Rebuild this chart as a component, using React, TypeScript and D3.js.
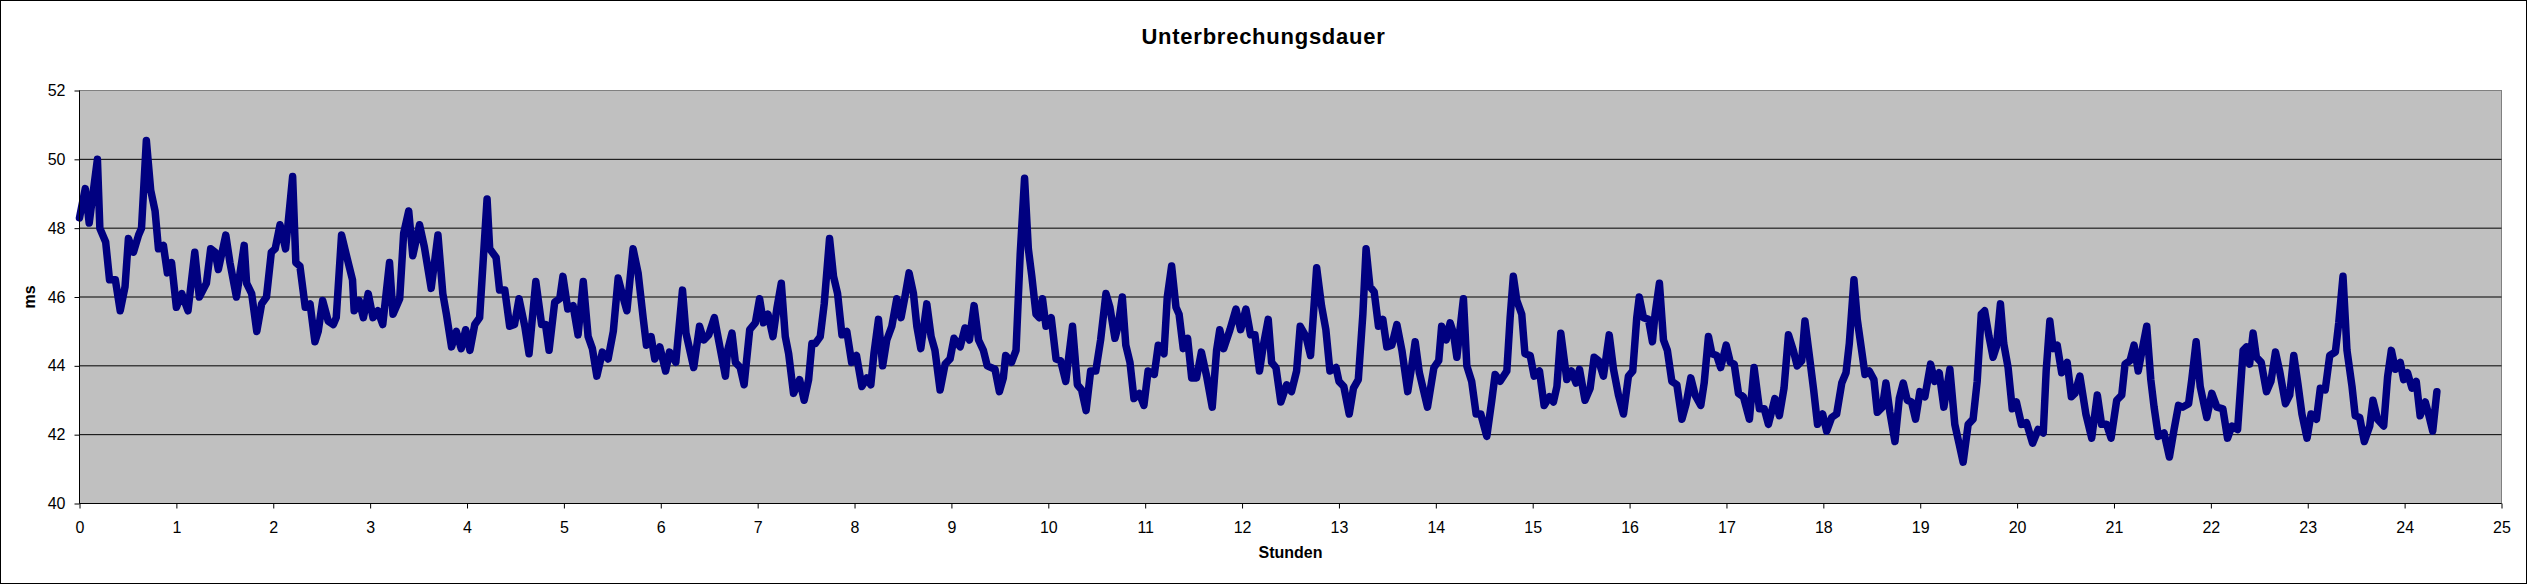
import React, { useEffect, useRef } from "react";
import * as d3 from "d3";

// Stunden (x) und Unterbrechungsdauer in ms (y)
const hours = [
  0.0, 0.06, 0.1, 0.185, 0.21, 0.27, 0.31, 0.37, 0.42, 0.47, 0.505, 0.557, 0.61, 0.64, 0.69, 0.735, 0.78, 0.815, 0.866, 0.907, 0.95,
  1.0, 1.055, 1.12, 1.19, 1.237, 1.31, 1.354, 1.4, 1.433, 1.51, 1.553, 1.62, 1.7, 1.725, 1.777, 1.83, 1.88, 1.93, 1.98,
  2.02, 2.07, 2.127, 2.155, 2.2, 2.233, 2.275, 2.33, 2.38, 2.43, 2.464, 2.51, 2.567, 2.62, 2.65, 2.705, 2.756, 2.818, 2.835, 2.886, 2.93, 2.98,
  3.03, 3.08, 3.13, 3.2, 3.236, 3.305, 3.346, 3.398, 3.44, 3.51, 3.56, 3.63, 3.7, 3.75, 3.787, 3.84, 3.89, 3.94, 3.986,
  4.03, 4.08, 4.13, 4.207, 4.234, 4.3, 4.336, 4.39, 4.44, 4.49, 4.537, 4.596, 4.64, 4.71, 4.77, 4.81, 4.847, 4.905, 4.957, 4.99,
  5.04, 5.095, 5.146, 5.2, 5.25, 5.294, 5.34, 5.397, 5.456, 5.51, 5.56, 5.61, 5.65, 5.714, 5.766, 5.82, 5.852, 5.9, 5.938, 5.99,
  6.05, 6.09, 6.155, 6.224, 6.26, 6.34, 6.4, 6.443, 6.495, 6.553, 6.6, 6.667, 6.69, 6.735, 6.77, 6.82, 6.86, 6.918, 6.976,
  7.02, 7.06, 7.107, 7.158, 7.2, 7.244, 7.285, 7.32, 7.37, 7.433, 7.48, 7.526, 7.56, 7.595, 7.646, 7.687, 7.742, 7.783, 7.825, 7.87, 7.92, 7.97,
  8.02, 8.076, 8.127, 8.168, 8.2, 8.247, 8.29, 8.333, 8.385, 8.436, 8.48, 8.52, 8.563, 8.608, 8.643, 8.684, 8.746, 8.79, 8.83, 8.883, 8.935, 8.986,
  9.027, 9.09, 9.14, 9.186, 9.234, 9.28, 9.33, 9.37, 9.45, 9.495, 9.536, 9.56, 9.62, 9.667, 9.71, 9.755, 9.794, 9.83, 9.873, 9.907, 9.94, 9.976,
  10.03, 10.08, 10.127, 10.18, 10.25, 10.3, 10.344, 10.39, 10.437, 10.49, 10.54, 10.595, 10.636, 10.688, 10.72, 10.764, 10.8, 10.843, 10.884, 10.94, 10.987,
  11.03, 11.094, 11.135, 11.194, 11.228, 11.273, 11.318, 11.35, 11.393, 11.438, 11.48, 11.53, 11.58, 11.634, 11.692, 11.737, 11.77, 11.81, 11.875, 11.937, 11.985,
  12.04, 12.088, 12.133, 12.18, 12.22, 12.27, 12.305, 12.35, 12.4, 12.46, 12.51, 12.563, 12.6, 12.66, 12.707, 12.77, 12.82, 12.865, 12.907, 12.97,
  13.0, 13.05, 13.106, 13.15, 13.2, 13.247, 13.28, 13.32, 13.364, 13.408, 13.453, 13.494, 13.546, 13.598, 13.65, 13.71, 13.752, 13.787, 13.83, 13.914, 13.98,
  14.03, 14.06, 14.107, 14.148, 14.182, 14.217, 14.285, 14.32, 14.37, 14.416, 14.464, 14.526, 14.578, 14.612, 14.664, 14.733, 14.767, 14.8, 14.836, 14.887, 14.92, 14.974,
  15.015, 15.07, 15.118, 15.173, 15.214, 15.25, 15.29, 15.352, 15.4, 15.448, 15.483, 15.54, 15.593, 15.634, 15.68, 15.73, 15.79, 15.834, 15.885, 15.937, 15.988,
  16.033, 16.074, 16.1, 16.143, 16.195, 16.236, 16.263, 16.308, 16.35, 16.39, 16.436, 16.488, 16.54, 16.584, 16.632, 16.677, 16.735, 16.77, 16.814, 16.85, 16.9, 16.94, 16.997,
  17.04, 17.08, 17.124, 17.175, 17.237, 17.285, 17.34, 17.39, 17.433, 17.5, 17.546, 17.594, 17.64, 17.69, 17.73, 17.777, 17.81, 17.86, 17.9, 17.94, 17.993,
  18.034, 18.086, 18.137, 18.19, 18.234, 18.268, 18.316, 18.35, 18.395, 18.43, 18.474, 18.522, 18.557, 18.61, 18.646, 18.687, 18.739, 18.784, 18.825, 18.866, 18.91, 18.952, 18.997,
  19.048, 19.107, 19.15, 19.196, 19.244, 19.306, 19.357, 19.4, 19.443, 19.495, 19.546, 19.588, 19.63, 19.665, 19.71, 19.752, 19.786, 19.828, 19.862, 19.907, 19.95, 19.993,
  20.045, 20.097, 20.16, 20.217, 20.27, 20.3, 20.338, 20.372, 20.414, 20.46, 20.517, 20.56, 20.597, 20.648, 20.71, 20.77, 20.828, 20.872, 20.924, 20.97,
  21.028, 21.08, 21.114, 21.166, 21.207, 21.25, 21.3, 21.338, 21.38, 21.414, 21.458, 21.517, 21.572, 21.62, 21.666, 21.71, 21.77, 21.803, 21.848, 21.89, 21.958,
  22.01, 22.062, 22.124, 22.172, 22.217, 22.276, 22.333, 22.368, 22.4, 22.436, 22.47, 22.52, 22.574, 22.62, 22.667, 22.71, 22.77, 22.814, 22.856, 22.9, 22.94, 22.993,
  23.034, 23.09, 23.13, 23.18, 23.227, 23.285, 23.32, 23.364, 23.388, 23.405, 23.457, 23.49, 23.536, 23.584, 23.64, 23.673, 23.72, 23.784, 23.825, 23.863, 23.904, 23.955, 23.99,
  24.03, 24.076, 24.12, 24.16, 24.213, 24.247, 24.29, 24.333,
];

const ms = [
  48.3, 49.15, 48.15, 50.0, 48.0, 47.6, 46.5, 46.5, 45.6, 46.3, 47.7, 47.3, 47.8, 48.0, 50.55, 49.1, 48.5, 47.4, 47.5, 46.7, 47.0,
  45.7, 46.1, 45.6, 47.3, 46.0, 46.4, 47.4, 47.3, 46.8, 47.8, 47.0, 46.0, 47.5, 46.4, 46.1, 45.0, 45.8, 46.0, 47.3,
  47.4, 48.1, 47.4, 48.2, 49.5, 47.0, 46.9, 45.7, 45.8, 44.7, 45.0, 45.9, 45.3, 45.2, 45.4, 47.8, 47.2, 46.5, 45.6, 45.9, 45.4, 46.1,
  45.4, 45.6, 45.2, 47.0, 45.5, 45.95, 47.85, 48.5, 47.2, 48.1, 47.45, 46.25, 47.8, 46.1, 45.5, 44.55, 45.0, 44.5, 45.05,
  44.45, 45.2, 45.4, 48.85, 47.4, 47.15, 46.2, 46.2, 45.15, 45.2, 45.95, 45.15, 44.35, 46.45, 45.2, 45.2, 44.45, 45.85, 45.95, 46.6,
  45.65, 45.75, 44.9, 46.45, 44.85, 44.5, 43.7, 44.4, 44.2, 45.0, 46.55, 46.0, 45.6, 47.4, 46.7, 45.35, 44.6, 44.85, 44.2, 44.55,
  43.85, 44.4, 44.1, 46.2, 44.95, 43.95, 45.15, 44.75, 44.9, 45.4, 44.7, 43.7, 44.45, 44.95, 44.1, 43.95, 43.45, 45.05, 45.25,
  45.95, 45.25, 45.5, 44.85, 45.7, 46.4, 44.85, 44.35, 43.2, 43.6, 43.0, 43.6, 44.65, 44.65, 44.85, 45.8, 47.7, 46.6, 46.1, 44.9, 45.0, 44.1,
  44.3, 43.4, 43.65, 43.45, 44.35, 45.35, 44.0, 44.75, 45.15, 45.95, 45.4, 46.0, 46.7, 46.1, 45.15, 44.5, 45.8, 44.85, 44.45, 43.3, 44.05, 44.2,
  44.8, 44.55, 45.1, 44.75, 45.75, 44.75, 44.45, 44.0, 43.9, 43.25, 43.65, 44.3, 44.1, 44.45, 47.25, 49.45, 47.4, 46.6, 45.5, 45.4, 45.95, 45.15,
  45.4, 44.2, 44.15, 43.55, 45.15, 43.45, 43.3, 42.7, 43.85, 43.85, 44.75, 46.1, 45.7, 44.8, 45.15, 46.0, 44.6, 44.1, 43.05, 43.2, 42.85,
  43.85, 43.75, 44.6, 44.35, 46.0, 46.9, 45.7, 45.5, 44.5, 44.8, 43.65, 43.65, 44.4, 43.7, 42.8, 44.45, 45.05, 44.5, 45.05, 45.65, 45.05,
  45.65, 44.9, 44.9, 43.85, 44.6, 45.35, 44.1, 43.95, 42.95, 43.45, 43.25, 43.85, 45.15, 44.85, 44.3, 46.85, 45.75, 45.05, 43.85, 43.95,
  43.55, 43.4, 42.6, 43.35, 43.6, 45.5, 47.4, 46.3, 46.15, 45.15, 45.35, 44.55, 44.6, 45.2, 44.45, 43.25, 44.0, 44.7, 43.8, 42.8, 43.95,
  44.15, 45.15, 44.75, 45.25, 44.95, 44.25, 45.95, 44.0, 43.55, 42.6, 42.6, 41.95, 43.0, 43.75, 43.55, 43.85, 45.4, 46.6, 45.9, 45.5, 44.35, 44.3,
  43.7, 43.85, 42.85, 43.1, 42.95, 43.4, 44.95, 43.6, 43.85, 43.5, 43.9, 43.0, 43.35, 44.25, 44.15, 43.7, 44.9, 43.9, 43.15, 42.6, 43.7,
  43.85, 45.4, 46.0, 45.4, 45.35, 44.7, 45.5, 46.4, 44.75, 44.45, 43.55, 43.45, 42.45, 42.9, 43.65, 43.15, 42.85, 43.5, 44.85, 44.35, 44.3, 43.95, 44.6,
  44.1, 44.05, 43.2, 43.1, 42.45, 43.95, 42.75, 42.75, 42.3, 43.05, 42.55, 43.35, 44.9, 44.45, 44.0, 44.15, 45.3, 44.2, 43.3, 42.3, 42.6,
  42.1, 42.5, 42.6, 43.5, 43.8, 44.65, 46.5, 45.35, 44.45, 43.75, 43.85, 43.6, 42.65, 42.8, 43.5, 42.65, 41.8, 43.05, 43.5, 43.0, 42.95, 42.45, 43.25,
  43.1, 44.05, 43.55, 43.8, 42.8, 43.9, 42.3, 41.75, 41.2, 42.3, 42.45, 43.55, 45.5, 45.6, 44.85, 44.25, 44.55, 45.8, 44.65, 43.95, 42.75, 42.95,
  42.3, 42.35, 41.75, 42.15, 42.05, 43.85, 45.3, 44.5, 44.6, 43.8, 44.1, 43.1, 43.2, 43.7, 42.6, 41.9, 43.15, 42.3, 42.3, 41.9,
  43.0, 43.15, 44.05, 44.15, 44.6, 43.85, 44.6, 45.15, 43.6, 42.8, 41.95, 42.05, 41.35, 42.15, 42.85, 42.8, 42.9, 43.6, 44.7, 43.4, 42.5,
  43.2, 42.8, 42.75, 41.9, 42.25, 42.15, 44.45, 44.55, 44.05, 44.95, 44.25, 44.1, 43.25, 43.55, 44.4, 43.85, 42.9, 43.15, 44.3, 43.45, 42.6, 41.9,
  42.6, 42.45, 43.35, 43.3, 44.3, 44.4, 45.25, 46.6, 45.35, 44.45, 43.4, 42.55, 42.5, 41.8, 42.25, 43.0, 42.45, 42.25, 43.7, 44.45, 43.9, 44.1, 43.6,
  43.8, 43.35, 43.55, 42.55, 42.95, 42.6, 42.1, 43.25,
];

const yTicks = [40, 42, 44, 46, 48, 50, 52];
const xTicks = [0, 1, 2, 3, 4, 5, 6, 7, 8, 9, 10, 11, 12, 13, 14, 15, 16, 17, 18, 19, 20, 21, 22, 23, 24, 25];

const title = "Unterbrechungsdauer";
const xTitle = "Stunden";
const yTitle = "ms";

const Chart = () => {
  const d3Container = useRef(null);

  useEffect(() => {
    document.body.style.margin = "0";
    document.body.style.overflow = "hidden";
    drawChart();
    return () => {
      d3.select(d3Container.current).select("svg").remove();
    };
  }, []);

  const drawChart = () => {
    const width = 2527;
    const height = 584;
    const font = "Arial, 'Liberation Sans', sans-serif";

    const svg = d3
      .select(d3Container.current)
      .append("svg")
      .attr("width", width)
      .attr("height", height)
      .style("display", "block")
      .style("font-family", font);

    // chart area with thin black frame
    svg
      .append("rect")
      .attr("x", 0.5)
      .attr("y", 0.5)
      .attr("width", width - 1)
      .attr("height", height - 1)
      .style("fill", "#ffffff")
      .style("stroke", "#000000");

    const x = d3.scaleLinear().domain([0, 25]).range([79.5, 2501.5]);
    const y = d3.scaleLinear().domain([40, 52]).range([503.5, 90.5]);

    // grey plot area
    svg
      .append("rect")
      .attr("x", x(0))
      .attr("y", y(52))
      .attr("width", x(25) - x(0))
      .attr("height", y(40) - y(52))
      .style("fill", "#c0c0c0")
      .style("stroke", "#808080");

    // gridlines
    svg
      .append("g")
      .selectAll("line")
      .data(yTicks.filter((t) => t > 40 && t < 52))
      .join("line")
      .attr("x1", x(0))
      .attr("x2", x(25))
      .attr("y1", (d) => y(d))
      .attr("y2", (d) => y(d))
      .style("stroke", "#000000");

    // data line
    const line = d3
      .line<number>()
      .x((_, i) => x(hours[i]))
      .y((d) => y(d));

    svg
      .append("path")
      .datum(ms)
      .attr("d", line)
      .style("fill", "none")
      .style("stroke", "#000080")
      .style("stroke-width", 7.5)
      .style("stroke-linejoin", "round")
      .style("stroke-linecap", "round");

    // axes
    const xAxis = d3
      .axisBottom(x)
      .tickValues(xTicks)
      .tickSize(5)
      .tickPadding(13)
      .tickFormat((d) => String(d));
    const gx = svg.append("g").attr("transform", `translate(0,${y(40)})`).call(xAxis);

    const yAxis = d3
      .axisLeft(y)
      .tickValues(yTicks)
      .tickSize(5)
      .tickPadding(9)
      .tickFormat((d) => String(d));
    const gy = svg.append("g").attr("transform", `translate(${x(0)},0)`).call(yAxis);

    [gx, gy].forEach((g) => {
      g.select(".domain").style("stroke", "#000000");
      g.selectAll(".tick line").style("stroke", "#000000");
      g.selectAll(".tick text")
        .style("font-family", font)
        .style("font-size", "16px")
        .style("fill", "#000000");
    });
    gx.select(".domain").attr("d", `M${x(0)},0H${x(25)}`);
    gy.select(".domain").attr("d", `M0,${y(40)}V${y(52)}`);

    // titles
    svg
      .append("text")
      .attr("x", width / 2)
      .attr("y", 44)
      .attr("text-anchor", "middle")
      .style("font-size", "22px")
      .style("font-weight", "bold")
      .style("letter-spacing", "0.75px")
      .text(title);

    svg
      .append("text")
      .attr("x", (x(0) + x(25)) / 2)
      .attr("y", 558)
      .attr("text-anchor", "middle")
      .style("font-size", "16px")
      .style("font-weight", "bold")
      .text(xTitle);

    svg
      .append("text")
      .attr("transform", `translate(35,${(y(40) + y(52)) / 2}) rotate(-90)`)
      .attr("text-anchor", "middle")
      .style("font-size", "16px")
      .style("font-weight", "bold")
      .text(yTitle);
  };

  return <div ref={d3Container}></div>;
};

export default function App() {
  return <Chart />;
}
